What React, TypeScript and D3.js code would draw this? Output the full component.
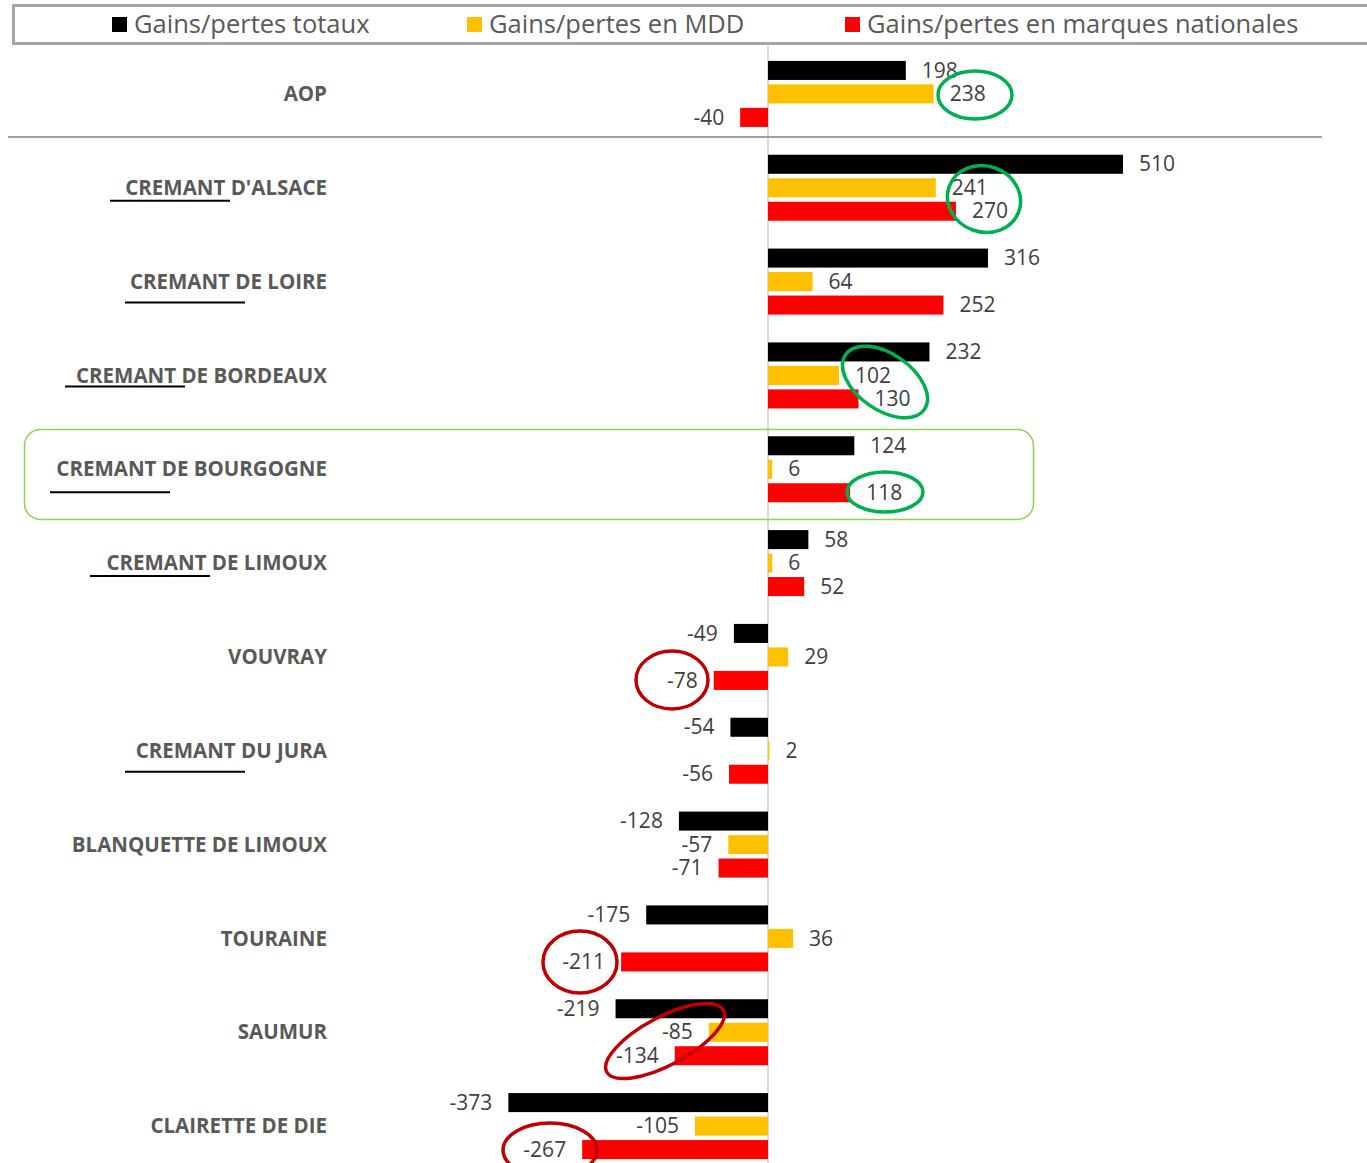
import React from "react";
import * as d3 from "d3";

const categories = [
  "AOP",
  "CREMANT D'ALSACE",
  "CREMANT DE LOIRE",
  "CREMANT DE BORDEAUX",
  "CREMANT DE BOURGOGNE",
  "CREMANT DE LIMOUX",
  "VOUVRAY",
  "CREMANT DU JURA",
  "BLANQUETTE DE LIMOUX",
  "TOURAINE",
  "SAUMUR",
  "CLAIRETTE DE DIE",
];
const seriesNames = [
  "Gains/pertes totaux",
  "Gains/pertes en MDD",
  "Gains/pertes en marques nationales",
];
const totaux = [198, 510, 316, 232, 124, 58, -49, -54, -128, -175, -219, -373];
const mdd = [238, 241, 64, 102, 6, 6, 29, 2, -57, 36, -85, -105];
const marques = [-40, 270, 252, 130, 118, 52, -78, -56, -71, -211, -134, -267];
const seriesValues = [totaux, mdd, marques];
const colors = ["#000000", "#FFC000", "#FF0000"];

// annotations (decorative)
const underlines = [
  { cat: "CREMANT D'ALSACE", x1: 110, dy: 13 },
  { cat: "CREMANT DE LOIRE", x1: 125, dy: 21 },
  { cat: "CREMANT DE BORDEAUX", x1: 65, dy: 11 },
  { cat: "CREMANT DE BOURGOGNE", x1: 50, dy: 23 },
  { cat: "CREMANT DE LIMOUX", x1: 90, dy: 13 },
  { cat: "CREMANT DU JURA", x1: 125, dy: 21 },
];
const ellipses = [
  { cx: 975, cy: 95, rx: 37, ry: 24, rot: 0, c: "#00B050" },
  { cx: 984, cy: 199, rx: 37, ry: 33, rot: 20, c: "#00B050" },
  { cx: 885, cy: 382, rx: 48, ry: 28, rot: 35, c: "#00B050" },
  { cx: 885, cy: 492, rx: 38, ry: 20, rot: 0, c: "#00B050" },
  { cx: 672, cy: 680, rx: 36, ry: 29, rot: 0, c: "#C00000" },
  { cx: 580, cy: 962, rx: 37, ry: 31, rot: 0, c: "#C00000" },
  { cx: 665, cy: 1041, rx: 66, ry: 24, rot: -28, c: "#C00000" },
  { cx: 550, cy: 1150, rx: 47, ry: 27, rot: 0, c: "#C00000" },
];

const W = 1367;
const H = 1163;
const FONT = "'Open Sans', 'Noto Sans', sans-serif";

export default function App() {
  const x = d3.scaleLinear().domain([0, 510]).range([768, 1123]);
  const y = d3.scaleBand<string>().domain(categories).range([47, 1173]).padding(0);
  const inner = d3
    .scaleBand<string>()
    .domain(seriesNames)
    .range([0, 66])
    .paddingInner(0.19)
    .paddingOuter(0);
  const center = (c: string) => (y(c) as number) + y.bandwidth() / 2;

  const legendX = [112, 467, 845];

  return (
    <svg
      width={W}
      height={H}
      style={{ position: "absolute", left: 0, top: 0, background: "#fff" }}
      fontFamily={FONT}
    >
      <rect x={0} y={0} width={W} height={H} fill="#fff" />
      {/* legend box */}
      <rect x={13.5} y={5.5} width={W + 20} height={38} fill="#fff" stroke="#A6A6A6" strokeWidth={3} />
      {seriesNames.map((s, i) => (
        <g key={s}>
          <rect x={legendX[i]} y={17} width={15} height={15} fill={colors[i]} />
          <text x={legendX[i] + 22} y={33} fontSize={25.5} fill="#595959">
            {s}
          </text>
        </g>
      ))}

      {/* zero axis */}
      <line x1={x(0)} x2={x(0)} y1={46} y2={H} stroke="#D9D9D9" strokeWidth={2} />

      {/* separator below AOP */}
      <line x1={8} x2={1322} y1={137} y2={137} stroke="#808080" strokeWidth={1.5} />

      {/* highlight box */}
      <rect x={24.5} y={429.5} width={1009} height={90} rx={16} fill="none" stroke="#92D050" strokeWidth={1.5} />

      {categories.map((c, ci) => (
        <g key={c}>
          <text
            x={327}
            y={center(c)}
            dy="0.35em"
            textAnchor="end"
            fontSize={20.5}
            fontWeight="bold"
            fill="#595959"
          >
            {c}
          </text>
          {seriesNames.map((s, si) => {
            const v = seriesValues[si][ci];
            const by = center(c) - 33 + (inner(s) as number);
            const x0 = x(Math.min(0, v));
            const x1 = x(Math.max(0, v));
            const ly = by + inner.bandwidth() / 2;
            return (
              <g key={s}>
                <rect x={x0} y={by} width={Math.max(0.5, x1 - x0)} height={inner.bandwidth()} fill={colors[si]} />
                <text
                  x={v >= 0 ? x1 + 16 : x0 - 16}
                  y={ly}
                  dy="0.34em"
                  textAnchor={v >= 0 ? "start" : "end"}
                  fontSize={21}
                  fill="#404040"
                >
                  {v}
                </text>
              </g>
            );
          })}
        </g>
      ))}

      {underlines.map((u) => (
        <line
          key={u.cat}
          x1={u.x1}
          x2={u.x1 + 120}
          y1={center(u.cat) + u.dy}
          y2={center(u.cat) + u.dy}
          stroke="#000"
          strokeWidth={2}
        />
      ))}

      {ellipses.map((e, i) => (
        <ellipse
          key={i}
          cx={e.cx}
          cy={e.cy}
          rx={e.rx}
          ry={e.ry}
          transform={`rotate(${e.rot} ${e.cx} ${e.cy})`}
          fill="none"
          stroke={e.c}
          strokeWidth={3.5}
        />
      ))}
    </svg>
  );
}
